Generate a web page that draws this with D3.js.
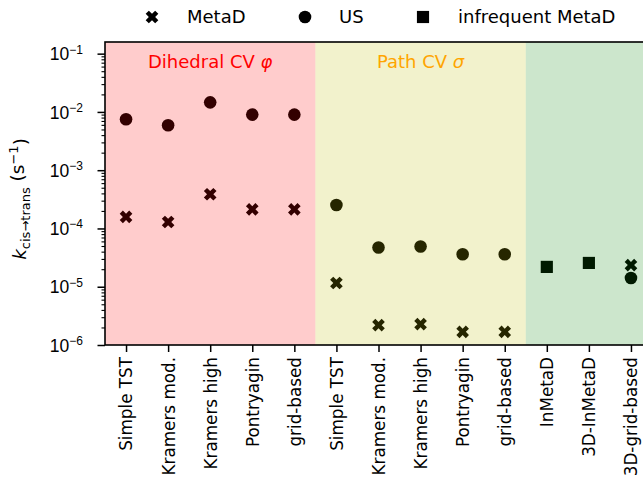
<!DOCTYPE html>
<html>
<head>
<meta charset="utf-8">
<script src="https://cdn.jsdelivr.net/npm/d3@7/dist/d3.min.js"></script>
<style>
  html, body { margin: 0; padding: 0; background: #fff; }
  svg { display: block; font-family: "DejaVu Sans", sans-serif; }
</style>
</head>
<body>
<svg id="chart" width="643" height="481"></svg>
<script>
// Rate-estimation methods along the x axis
const methods = ["Simple TST", "Kramers mod.", "Kramers high", "Pontryagin", "grid-based",
                 "Simple TST", "Kramers mod.", "Kramers high", "Pontryagin", "grid-based",
                 "InMetaD", "3D-InMetaD", "3D-grid-based"];

// k_cis->trans (1/s) from metadynamics-based free energy (index into methods)
const metadIdx = [0, 1, 2, 3, 4, 5, 6, 7, 8, 9, 12];
const metadRates = [1.58e-4, 1.29e-4, 3.86e-4, 2.13e-4, 2.13e-4,
                    1.16e-5, 2.19e-6, 2.28e-6, 1.68e-6, 1.68e-6, 2.35e-5];

// k_cis->trans (1/s) from umbrella sampling
const usIdx = [0, 1, 2, 3, 4, 5, 6, 7, 8, 9, 12];
const usRates = [7.5e-3, 5.9e-3, 1.46e-2, 9.0e-3, 9.0e-3,
                 2.53e-4, 4.7e-5, 4.9e-5, 3.6e-5, 3.6e-5, 1.41e-5];

// k_cis->trans (1/s) from infrequent metadynamics
const inmetadIdx = [10, 11];
const inmetadRates = [2.19e-5, 2.56e-5];

// Background sections: [first index, last index, label]
const sections = [
  { from: 0, to: 4, label: "Dihedral CV ", sym: "φ", fill: "#ff0000", text: "#ff0000" },
  { from: 5, to: 9, label: "Path CV ", sym: "σ", fill: "#bfbf00", text: "#ffa500" },
  { from: 10, to: 12, label: null, fill: "#008000" }
];

const yTickExps = [-6, -5, -4, -3, -2, -1];

const svg = d3.select("#chart");
const pLeft = 105, pRight = 652, pTop = 42, pBottom = 345;

const x = d3.scaleLinear().domain([-0.5, 12.5]).range([pLeft, pRight]);
const y = d3.scaleLog().domain([1e-6, Math.pow(10, -0.8)]).range([pBottom, pTop]);

const plot = svg.append("g");

// Markers
const crossPath = d3.symbol().type(d3.symbolCross).size(100)();
const squarePath = d3.symbol().type(d3.symbolSquare).size(148)();

plot.selectAll("path.metad").data(metadIdx).enter().append("path")
  .attr("class", "metad")
  .attr("d", crossPath)
  .attr("transform", (d, i) => `translate(${x(d)},${y(metadRates[i])}) rotate(45)`)
  .attr("fill", "#000");

plot.selectAll("circle.us").data(usIdx).enter().append("circle")
  .attr("class", "us")
  .attr("cx", d => x(d))
  .attr("cy", (d, i) => y(usRates[i]))
  .attr("r", 6.3)
  .attr("fill", "#000");

plot.selectAll("path.inmetad").data(inmetadIdx).enter().append("path")
  .attr("class", "inmetad")
  .attr("d", squarePath)
  .attr("transform", (d, i) => `translate(${x(d)},${y(inmetadRates[i])})`)
  .attr("fill", "#000");

// Translucent section shading laid over the markers
plot.selectAll("rect.section").data(sections).enter().append("rect")
  .attr("class", "section")
  .attr("x", d => x(d.from - 0.5))
  .attr("width", d => x(d.to + 0.5) - x(d.from - 0.5))
  .attr("y", pTop)
  .attr("height", pBottom - pTop)
  .attr("fill", d => d.fill)
  .attr("fill-opacity", 0.2);

// Section titles
sections.filter(s => s.label).forEach(s => {
  const t = svg.append("text")
    .attr("x", x((s.from + s.to) / 2))
    .attr("y", 68)
    .attr("text-anchor", "middle")
    .attr("font-size", 18)
    .attr("fill", s.text);
  t.append("tspan").text(s.label);
  t.append("tspan").attr("font-style", "italic").text(s.sym);
});

// Y axis (log) with major and minor ticks
const minorVals = [];
for (let e = -6; e < -1; e++) for (let m = 2; m <= 9; m++) minorVals.push(m * Math.pow(10, e));

const yAxisMinor = d3.axisLeft(y).tickValues(minorVals).tickSize(3.5).tickFormat("");
const gMinor = svg.append("g").attr("transform", `translate(${pLeft},0)`).call(yAxisMinor);
gMinor.select(".domain").remove();
gMinor.selectAll("line").attr("stroke-width", 1.1);

const yAxis = d3.axisLeft(y).tickValues(yTickExps.map(e => Math.pow(10, e))).tickSize(7.5).tickFormat("");
const gY = svg.append("g").attr("transform", `translate(${pLeft},0)`).call(yAxis);
gY.select(".domain").remove();
gY.selectAll("line").attr("stroke-width", 1.5);
gY.selectAll(".tick").each(function(v, i) {
  const t = d3.select(this).append("text")
    .attr("x", -22).attr("dy", "0.35em")
    .attr("text-anchor", "end")
    .attr("fill", "#000")
    .attr("font-size", 17.5);
  t.append("tspan").text("10");
  t.append("tspan").attr("dy", "-0.55em").attr("font-size", 12).text("−" + (-yTickExps[i]));
});

// X axis with rotated method names
const xAxis = d3.axisBottom(x).tickValues(d3.range(methods.length)).tickSize(7)
  .tickFormat(i => methods[i]);
const gX = svg.append("g").attr("transform", `translate(0,${pBottom})`).call(xAxis);
gX.select(".domain").remove();
gX.selectAll("line").attr("stroke-width", 1.5);
gX.selectAll("text")
  .attr("font-size", 16.8)
  .attr("font-family", "DejaVu Sans, sans-serif")
  .attr("text-anchor", "end")
  .attr("dy", "0.35em")
  .attr("transform", "rotate(-90)")
  .attr("x", -12)
  .attr("y", 0);

// Spines
svg.append("rect")
  .attr("x", pLeft).attr("y", pTop)
  .attr("width", pRight - pLeft).attr("height", pBottom - pTop)
  .attr("fill", "none").attr("stroke", "#000").attr("stroke-width", 1.6);

// Y label
const yl = svg.append("text")
  .attr("transform", `translate(26,199) rotate(-90)`)
  .attr("text-anchor", "middle")
  .attr("font-size", 18.5);
yl.append("tspan").attr("font-style", "italic").text("k");
yl.append("tspan").attr("dy", "0.3em").attr("font-size", 13).text("cis→trans");
yl.append("tspan").attr("dy", "-0.3em").text(" (s");
yl.append("tspan").attr("dy", "-0.5em").attr("font-size", 13).text("−1");
yl.append("tspan").attr("dy", "0.5em").text(")");

// Legend
const legend = [
  { sym: crossPath, rot: 45, label: "MetaD", mx: 152, tx: 187 },
  { sym: null, rot: 0, label: "US", mx: 305, tx: 339 },
  { sym: squarePath, rot: 0, label: "infrequent MetaD", mx: 423, tx: 458 }
];
const ly = 17;
legend.forEach(l => {
  if (l.sym) {
    svg.append("path").attr("d", l.sym)
      .attr("transform", `translate(${l.mx},${ly}) rotate(${l.rot})`)
      .attr("fill", "#000");
  } else {
    svg.append("circle").attr("cx", l.mx).attr("cy", ly).attr("r", 6.3).attr("fill", "#000");
  }
  svg.append("text").attr("x", l.tx).attr("y", ly).attr("dy", "0.36em")
    .attr("font-size", 18).text(l.label);
});
</script>
</body>
</html>
